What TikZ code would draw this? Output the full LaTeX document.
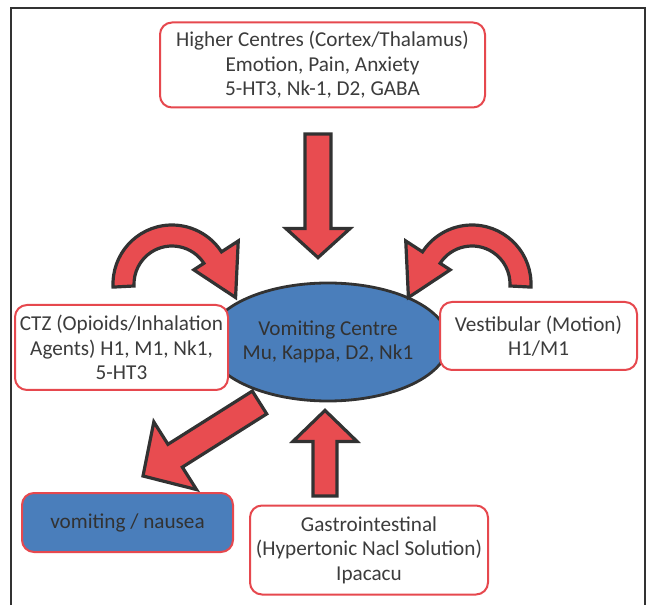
\documentclass[tikz,border=0pt]{standalone}
\usepackage{fontspec}
\setmainfont{Carlito}
\usetikzlibrary{shapes.geometric,calc}

\definecolor{arrowred}{RGB}{232,76,80}
\definecolor{boxred}{RGB}{230,72,78}
\definecolor{centreblue}{RGB}{74,126,187}
\definecolor{darkline}{RGB}{50,50,50}
\definecolor{textgray}{RGB}{60,60,60}

% straight block arrow: tail, tip, half shaft, half head, head length
\newcommand{\blockarrow}[5]{%
    \draw[block arrow] let \p1=(#1), \p2=(#2), \n1={atan2(\y2-\y1,\x2-\x1)}, \n2={veclen(\x2-\x1,\y2-\y1)} in
        [shift={(\p1)}, rotate=\n1] (0pt,-#3) -- (\n2-#5,-#3) -- (\n2-#5,-#4) -- (\n2,0pt)
        -- (\n2-#5,#4) -- (\n2-#5,#3) -- (0pt,#3) -- cycle;}

% curved block arrow round a centre, 1 or -1 to mirror
\newcommand{\turnarrow}[2]{%
    \begin{scope}[shift={(#1)}, xscale=#2]
        \draw[block arrow] (183:38) -- (183:59) arc[start angle=183, end angle=33, radius=59]
            -- (33:79) -- (-12:65) -- (33:26) -- (33:38) arc[start angle=33, end angle=183, radius=38] -- cycle;
    \end{scope}}

\begin{document}
\begin{tikzpicture}[x=1pt,y=1pt,
    main font/.style={font=\fontsize{21.2}{24.5}\selectfont, text=textgray},
    box/.style={main font, draw=boxred, line width=2pt, fill=white, rounded corners=12pt, align=center, inner sep=0pt},
    block arrow/.style={fill=arrowred, draw=darkline, line width=3.2pt}]

    \useasboundingbox (0,0) rectangle (647,605);
    \draw[darkline, line width=2.2pt] (11,0) -- (11,597) -- (645,597) -- (645,0);

    \node[ellipse, draw=darkline, line width=2.8pt, fill=centreblue, main font, text=darkline, align=center,
        minimum width=192, minimum height=118, inner sep=0pt] (centre) at (328,263) {Vomiting Centre\\Mu, Kappa, D2, Nk1};

    \node[box, minimum width=325, minimum height=85] (higher) [at = {(centre)}, xshift = -5.5, yshift = 277]
        {Higher Centres (Cortex/Thalamus)\\Emotion, Pain, Anxiety\\5-HT3, Nk-1, D2, GABA};
    \node[box, minimum width=213, minimum height=85] (ctz) [at = {(centre)}, xshift = -206.5, yshift = -5.5]
        {CTZ (Opioids/Inhalation\\Agents) H1, M1, Nk1,\\5-HT3};
    \node[box, minimum width=197, minimum height=68] (vest) [at = {(centre)}, xshift = 210.5, yshift = 6]
        {Vestibular (Motion)\\H1/M1};
    \node[box, fill=centreblue, text=darkline, minimum width=211, minimum height=59] (vomit) [at = {(centre)}, xshift = -200.5, yshift = -180.5]
        {vomiting / nausea};
    \node[box, minimum width=238, minimum height=89] (gastro) [at = {(centre)}, xshift = 41, yshift = -208]
        {Gastrointestinal\\(Hypertonic Nacl Solution)\\Ipacacu};

    \coordinate (down tail) at ($(higher.south)+(-4.5,-25.5)$);
    \coordinate (down tip) at ($(centre.north)+(-10,24)$);
    \coordinate (up tail) at ($(gastro.north)+(-44,8.5)$);
    \coordinate (up tip) at ($(centre.south)+(-3,-8)$);
    \coordinate (out tail) at ($(centre)+(-68.5,-60.5)$);
    \coordinate (out tip) at ($(vomit.north)+(15.5,16)$);
    \coordinate (ctz turn) at ($(ctz.north)+(50.5,20)$);
    \coordinate (vest turn) at ($(vest.north)+(-66.5,17)$);

    \blockarrow{down tail}{down tip}{13pt}{32pt}{29pt}
    \blockarrow{up tail}{up tip}{12pt}{32pt}{31pt}
    \blockarrow{out tail}{out tip}{13.5pt}{40pt}{38pt}
    \turnarrow{ctz turn}{1}
    \turnarrow{vest turn}{-1}
\end{tikzpicture}
\end{document}
